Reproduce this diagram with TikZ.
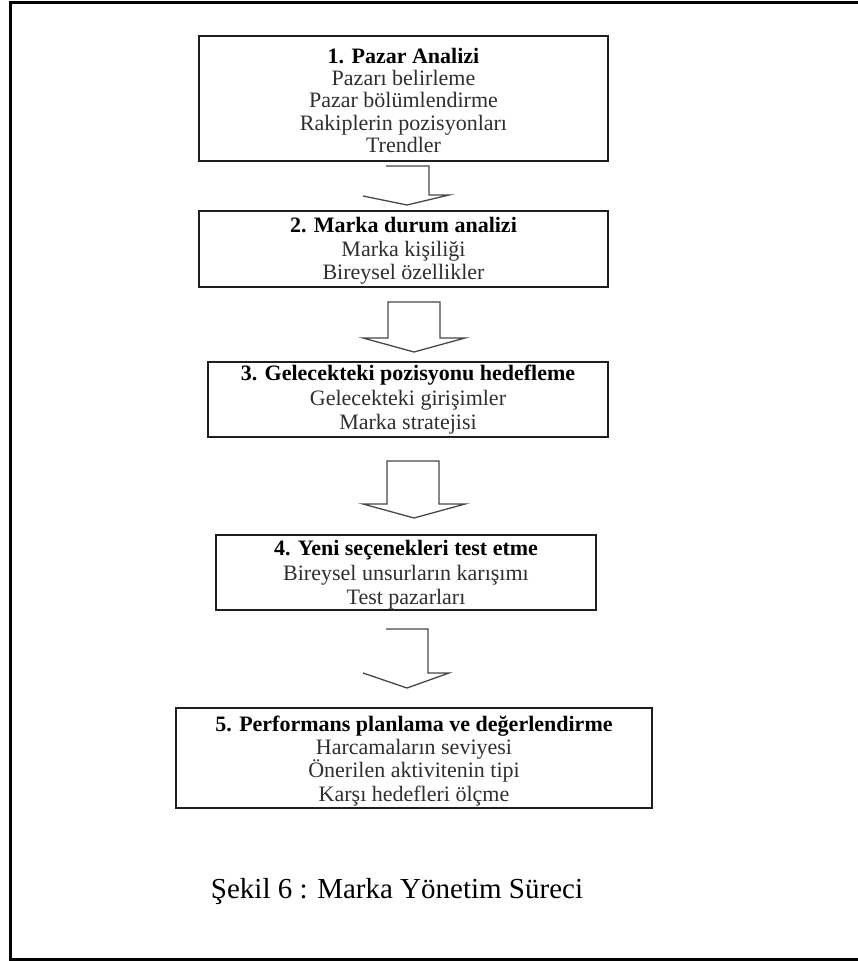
\documentclass[tikz,border=0pt]{standalone}
\usepackage{fontspec}
\setmainfont{Liberation Serif}
\begin{document}
\begin{tikzpicture}[x=1pt,y=-1pt,
  box/.style={draw=black!88, line width=1.8pt, inner sep=0pt},
  blockarrow/.style={draw=black!72, line width=1.3pt, line join=miter},
  title/.style={anchor=base, inner sep=0pt, font=\fontsize{22}{24}\selectfont\bfseries, text=black},
  item/.style={anchor=base, inner sep=0pt, font=\fontsize{22}{24}\selectfont, text=black!82},
]
\useasboundingbox (0,0) rectangle (858,961);

% outer frame (open on the right)
\draw[line width=3pt] (858,2) -- (10,2) -- (10,959) -- (858,959);

% step boxes
\node[box, minimum width=409pt, minimum height=125pt] (b1) at (403.5,98.5) {};
\node[box, minimum width=409pt, minimum height=76pt]  (b2) at (403.5,249) {};
\node[box, minimum width=400pt, minimum height=75pt]  (b3) at (408,399.5) {};
\node[box, minimum width=380pt, minimum height=75pt]  (b4) at (406,572.5) {};
\node[box, minimum width=476pt, minimum height=100pt] (b5) at (414,758) {};

% box 1
\node[title] (t1) at (403.5,63) {1. Pazar Analizi};
\node[item] (t1a) at (403.5,85) {Pazarı belirleme};
\node[item] (t1b) at (403.5,107.5) {Pazar bölümlendirme};
\node[item] (t1c) at (403.5,130) {Rakiplerin pozisyonları};
\node[item] (t1d) at (403.5,152) {Trendler};

% box 2
\node[title] (t2) at (403.5,232) {2. Marka durum analizi};
\node[item] (t2a) at (403.5,256) {Marka kişiliği};
\node[item] (t2b) at (403.5,279) {Bireysel özellikler};

% box 3
\node[title] (t3) at (408,380) {3. Gelecekteki pozisyonu hedefleme};
\node[item] (t3a) at (408,405) {Gelecekteki girişimler};
\node[item] (t3b) at (408,429) {Marka stratejisi};

% box 4
\node[title] (t4) at (406,555) {4. Yeni seçenekleri test etme};
\node[item] (t4a) at (406,580) {Bireysel unsurların karışımı};
\node[item] (t4b) at (406,604) {Test pazarları};

% box 5
\node[title] (t5) at (414,731) {5. Performans planlama ve değerlendirme};
\node[item] (t5a) at (414,754) {Harcamaların seviyesi};
\node[item] (t5b) at (414,777) {Önerilen aktivitenin tipi};
\node[item] (t5c) at (414,801) {Karşı hedefleri ölçme};

% block arrows between the steps
\draw[blockarrow] (386,166) -- (429,166) -- (429,195) -- (449,195) -- (407,205) -- (363,196);
\draw[blockarrow] (388,302) -- (440,302) -- (440,338) -- (465,338) -- (414,352) -- (363,338) -- (388,338) -- cycle;
\draw[blockarrow] (387,461) -- (439,461) -- (439,504) -- (465,504) -- (414,518) -- (363,504) -- (387,504) -- cycle;
\draw[blockarrow] (386,629) -- (428,629) -- (428,673) -- (449,673) -- (407,688) -- (363,673);

% caption
\node[anchor=base, inner sep=0pt, font=\fontsize{29}{33}\selectfont] (cap) at (397,898) {Şekil 6 : Marka Yönetim Süreci};
\end{tikzpicture}
\end{document}
